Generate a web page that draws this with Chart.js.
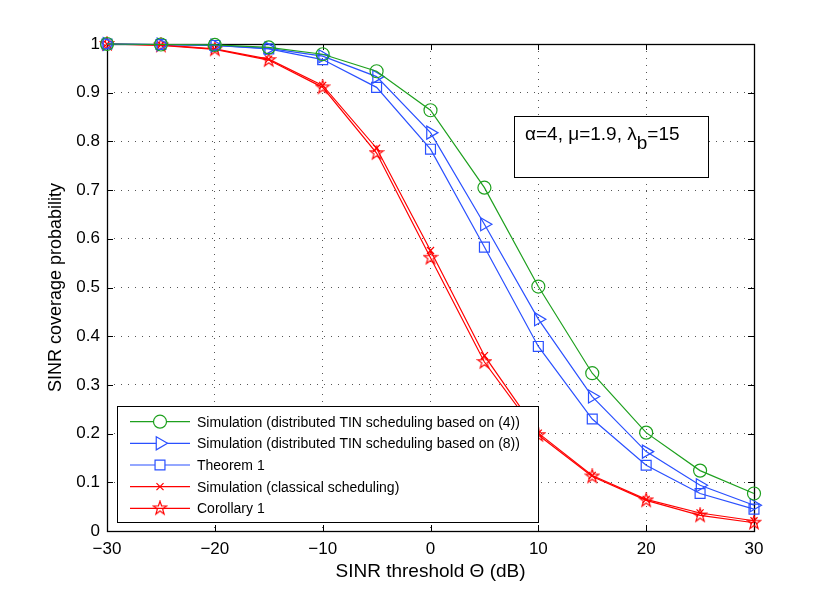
<!DOCTYPE html>
<html>
<head>
<meta charset="utf-8">
<script src="https://cdn.jsdelivr.net/npm/chart.js@4/dist/chart.umd.min.js"></script>
<style>
  html, body { margin: 0; padding: 0; background: #fff; }
  #wrap { width: 830px; height: 597px; }
</style>
</head>
<body>
<div id="wrap"><canvas id="coverageChart" width="830" height="597"></canvas></div>
<script>
// SINR threshold (dB) and coverage probabilities
const thresholdDb = [-30, -25, -20, -15, -10, -5, 0, 5, 10, 15, 20, 25, 30];
const simTin4 = [1.0, 0.999, 0.998, 0.993, 0.979, 0.944, 0.864, 0.705, 0.502, 0.324, 0.202, 0.124, 0.077];
const simTin8 = [1.0, 0.999, 0.997, 0.991, 0.975, 0.933, 0.818, 0.630, 0.435, 0.276, 0.163, 0.094, 0.053];
const theorem1 = [1.0, 0.999, 0.997, 0.990, 0.968, 0.911, 0.784, 0.583, 0.379, 0.230, 0.135, 0.077, 0.045];
const simClassical = [1.0, 0.998, 0.990, 0.969, 0.915, 0.786, 0.576, 0.360, 0.201, 0.114, 0.065, 0.037, 0.021];
const corollary1 = [1.0, 0.997, 0.989, 0.967, 0.911, 0.776, 0.561, 0.347, 0.197, 0.112, 0.063, 0.032, 0.017];

const xTicks = [-30, -20, -10, 0, 10, 20, 30];
const yTicks = [0, 0.1, 0.2, 0.3, 0.4, 0.5, 0.6, 0.7, 0.8, 0.9, 1];

const GREEN = '#1ea01e';
const BLUE = '#2a50ff';
const RED = '#ff0000';
const FONT = "'Liberation Sans', Arial, Helvetica, sans-serif";

// MATLAB-like pentagram marker
function makeStar(size, color) {
  const c = document.createElement('canvas');
  c.width = size; c.height = size;
  const g = c.getContext('2d');
  const cx = size / 2, cy = size / 2, ro = size / 2 - 1, ri = ro * 0.4;
  g.beginPath();
  for (let i = 0; i < 10; i++) {
    const r = i % 2 === 0 ? ro : ri;
    const a = -Math.PI / 2 + i * Math.PI / 5;
    const px = cx + r * Math.cos(a), py = cy + r * Math.sin(a);
    if (i === 0) g.moveTo(px, py); else g.lineTo(px, py);
  }
  g.closePath();
  g.strokeStyle = color;
  g.lineWidth = 1.2;
  g.stroke();
  return c;
}
const starMarker = makeStar(16, RED);

const toPoints = vals => thresholdDb.map((x, i) => ({ x, y: vals[i] }));

function series(label, vals, color, style, radius, rotation) {
  return {
    label,
    data: toPoints(vals),
    borderColor: color,
    backgroundColor: 'rgba(0,0,0,0)',
    borderWidth: 1.2,
    pointStyle: style,
    pointRadius: radius,
    pointRotation: rotation || 0,
    pointBorderColor: color,
    pointBackgroundColor: 'rgba(0,0,0,0)',
    pointBorderWidth: 1.2,
    tension: 0,
    fill: false,
    clip: false
  };
}

const datasets = [
  series('Simulation (distributed TIN scheduling based on (4))', simTin4, GREEN, 'circle', 6.5),
  series('Simulation (distributed TIN scheduling based on (8))', simTin8, BLUE, 'triangle', 7.5, 90),
  series('Theorem 1', theorem1, BLUE, 'rect', 7),
  series('Simulation (classical scheduling)', simClassical, RED, 'crossRot', 5),
  series('Corollary 1', corollary1, RED, starMarker, 8)
];

// box + inward tick marks, like a MATLAB axes
const axesFrame = {
  id: 'axesFrame',
  beforeDatasetsDraw(chart) {
    const { ctx, chartArea: a, scales: { x, y } } = chart;
    const tl = 6;
    ctx.save();
    ctx.strokeStyle = '#000';
    ctx.lineWidth = 1;
    ctx.beginPath();
    xTicks.forEach(v => {
      const px = Math.round(x.getPixelForValue(v)) + 0.5;
      ctx.moveTo(px, a.bottom); ctx.lineTo(px, a.bottom - tl);
      ctx.moveTo(px, a.top); ctx.lineTo(px, a.top + tl);
    });
    yTicks.forEach(v => {
      const py = Math.round(y.getPixelForValue(v)) + 0.5;
      ctx.moveTo(a.left, py); ctx.lineTo(a.left + tl, py);
      ctx.moveTo(a.right, py); ctx.lineTo(a.right - tl, py);
    });
    ctx.stroke();
    ctx.lineWidth = 1.3;
    ctx.strokeRect(Math.round(a.left) + 0.5, Math.round(a.top) + 0.5,
      Math.round(a.right - a.left), Math.round(a.bottom - a.top));
    ctx.restore();
  }
};

// parameter annotation and legend box inside the axes
const overlays = {
  id: 'overlays',
  afterDraw(chart) {
    const { ctx } = chart;
    ctx.save();

    // annotation
    ctx.fillStyle = '#fff';
    ctx.fillRect(514, 116, 194, 61);
    ctx.strokeStyle = '#000';
    ctx.lineWidth = 1;
    ctx.strokeRect(514.5, 116.5, 194, 61);
    ctx.fillStyle = '#000';
    ctx.font = '19px ' + FONT;
    ctx.textBaseline = 'alphabetic';
    let tx = 525;
    const base = 140;
    const part1 = '\u03b1=4, \u03bc=1.9, \u03bb';
    ctx.fillText(part1, tx, base);
    tx += ctx.measureText(part1).width;
    ctx.fillText('b', tx, base + 9);
    tx += ctx.measureText('b').width;
    ctx.fillText('=15', tx, base);

    // legend
    const lx = 117, ly = 406, lw = 421, lh = 116;
    ctx.fillStyle = '#fff';
    ctx.fillRect(lx, ly, lw, lh);
    ctx.strokeStyle = '#000';
    ctx.strokeRect(lx + 0.5, ly + 0.5, lw, lh);
    ctx.font = '14px ' + FONT;
    ctx.textBaseline = 'middle';
    chart.data.datasets.forEach((ds, i) => {
      const cy = 421.7 + i * 21.65;
      ctx.strokeStyle = ds.borderColor;
      ctx.lineWidth = 1.2;
      ctx.beginPath();
      ctx.moveTo(130, cy); ctx.lineTo(190, cy);
      ctx.stroke();
      ctx.fillStyle = '#fff';
      Chart.helpers.drawPoint(ctx, {
        pointStyle: ds.pointStyle,
        rotation: ds.pointRotation,
        radius: ds.pointRadius,
        borderWidth: 1.2
      }, 160, cy);
      ctx.fillStyle = '#000';
      ctx.fillText(ds.label, 197, cy + 1);
    });
    ctx.restore();
  }
};

const ctx = document.getElementById('coverageChart').getContext('2d');
new Chart(ctx, {
  type: 'line',
  data: { datasets },
  options: {
    responsive: false,
    animation: false,
    layout: { padding: { top: 44, right: 76, left: 0, bottom: 0 } },
    plugins: {
      legend: { display: false },
      tooltip: { enabled: false }
    },
    scales: {
      x: {
        type: 'linear',
        min: -30,
        max: 30,
        afterFit: s => { s.height = 66; },
        afterBuildTicks: s => { s.ticks = xTicks.map(v => ({ value: v })); },
        ticks: {
          color: '#000',
          padding: 8,
          maxRotation: 0,
          font: { family: FONT, size: 17 },
          callback: v => (v < 0 ? '\u2212' + Math.abs(v) : String(v))
        },
        grid: { color: '#555', drawTicks: false, lineWidth: 1 },
        border: { display: false, dash: [1, 6] },
        title: {
          display: true,
          text: 'SINR threshold \u0398 (dB)',
          color: '#000',
          font: { family: FONT, size: 19 },
          padding: { top: 0, bottom: 14 }
        }
      },
      y: {
        type: 'linear',
        min: 0,
        max: 1,
        afterFit: s => { s.width = 107; },
        afterBuildTicks: s => { s.ticks = yTicks.map(v => ({ value: v })); },
        ticks: {
          color: '#000',
          padding: 7,
          font: { family: FONT, size: 17 },
          callback: v => String(Math.round(v * 10) / 10)
        },
        grid: { color: '#555', drawTicks: false, lineWidth: 1 },
        border: { display: false, dash: [1, 6] },
        title: {
          display: true,
          text: 'SINR coverage probability',
          color: '#000',
          font: { family: FONT, size: 18 },
          padding: { top: 45, bottom: 0 }
        }
      }
    }
  },
  plugins: [axesFrame, overlays]
});
</script>
</body>
</html>
